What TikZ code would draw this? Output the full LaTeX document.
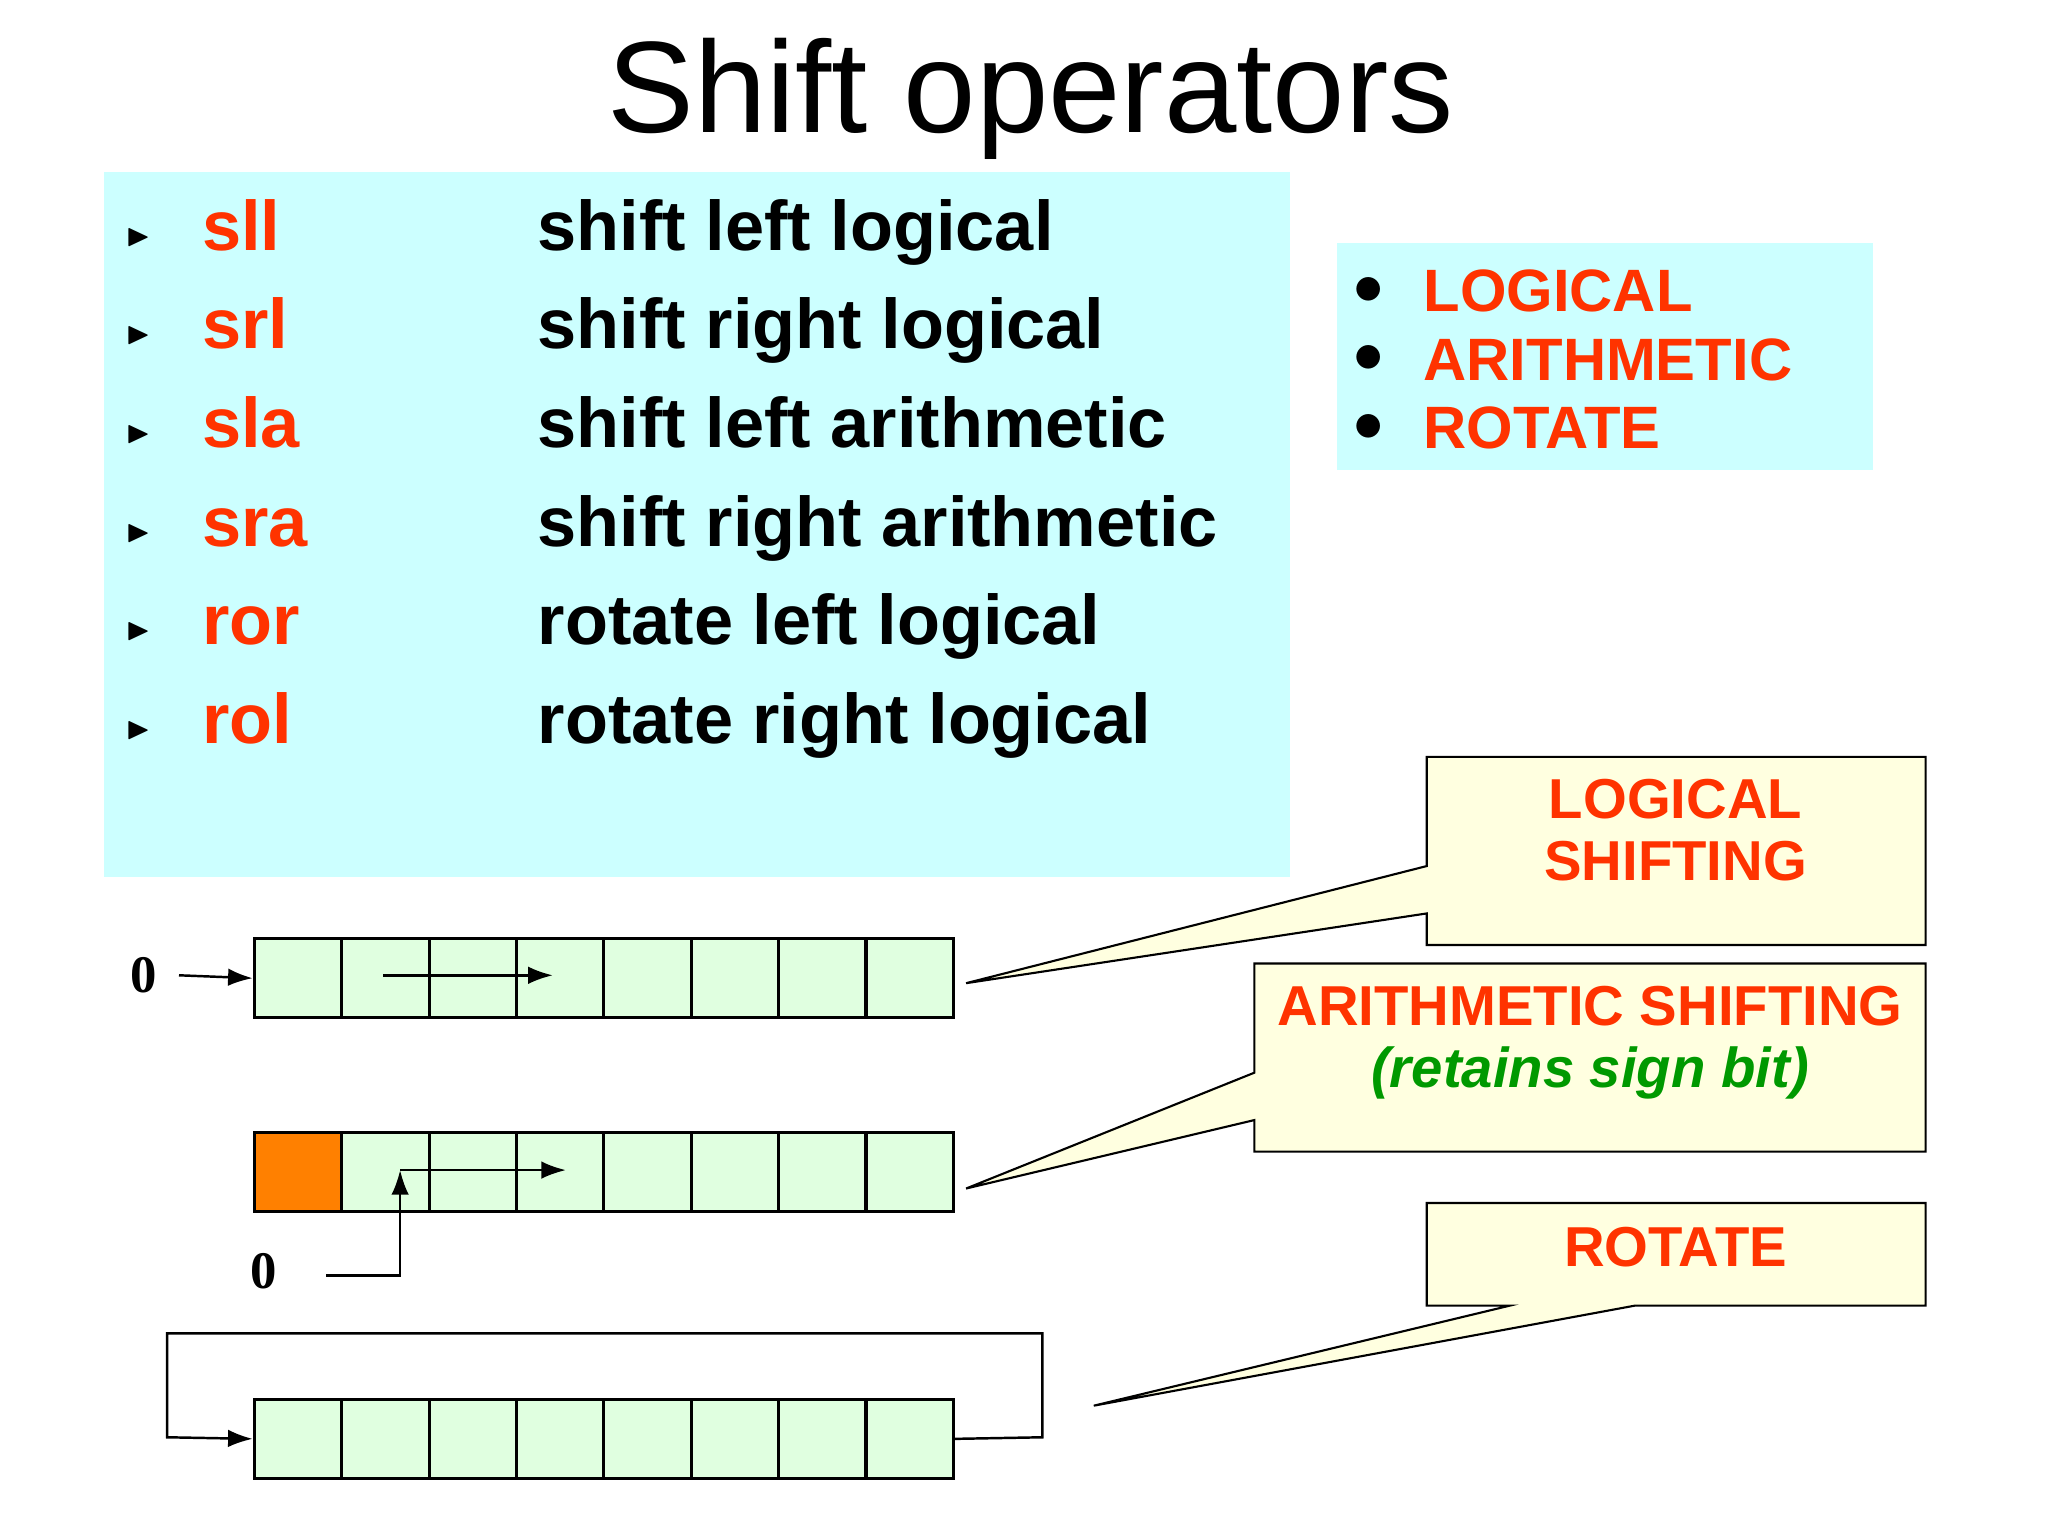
\documentclass[tikz,border=0pt]{standalone}
\usepackage{fontspec}
\setmainfont{Liberation Sans}
\newfontfamily\serifb{Liberation Serif}
\usepackage{amssymb}
\usetikzlibrary{arrows.meta}
\definecolor{cyanbg}{HTML}{CCFFFF}
\definecolor{redt}{HTML}{FF3300}
\definecolor{greent}{HTML}{009900}
\definecolor{cellg}{HTML}{E0FFE0}
\definecolor{callbg}{HTML}{FFFFE0}
\definecolor{orng}{HTML}{FF8000}
\begin{document}
\begin{tikzpicture}[x=0.01316cm,y=-0.01316cm,
  op/.style={anchor=base west,inner sep=0,font=\fontsize{20}{24}\selectfont\bfseries,text=redt},
  desc/.style={anchor=base west,inner sep=0,font=\fontsize{20}{24}\selectfont\bfseries},
  bul/.style={anchor=center,inner sep=0,font=\fontsize{9}{10}\selectfont},
  rb/.style={anchor=base west,inner sep=0,font=\fontsize{17}{20}\selectfont\bfseries,text=redt},
  ct/.style={anchor=base,inner sep=0,font=\fontsize{16}{19}\selectfont\bfseries,text=redt},
  cell/.style={draw,line width=0.9pt,fill=cellg,minimum width=66.4*0.01316cm,minimum height=60*0.01316cm,inner sep=0,anchor=north west},
  call/.style={draw,line width=0.6pt,fill=callbg},
  zero/.style={inner sep=0,font=\serifb\fontsize{15}{18}\selectfont\bfseries},
  arr/.style={-{Latex[length=7pt,width=5pt]},line width=0.7pt}]
\useasboundingbox (0,0) rectangle (1556,1167);
\fill[white] (0,0) rectangle (1556,1167);
\node[inner sep=0,font=\fontsize{37}{44}\selectfont] (title) at (783,75) {Shift operators};
% list box
\fill[cyanbg] (79,131) rectangle (980,666);
\foreach \o/\d/\y [count=\i] in {sll/shift left logical/190,srl/shift right logical/265,sla/shift left arithmetic/340,sra/shift right arithmetic/415,ror/rotate left logical/490,rol/rotate right logical/565}{
  \node[bul] (b\i) at (105,\y-10) {$\blacktriangleright$};
  \node[op] (o\i) at (153,\y) {\o};
  \node[desc] (d\i) at (408,\y) {\d};
}
% right box
\fill[cyanbg] (1016,185) rectangle (1423,357);
\foreach \t/\y [count=\i] in {LOGICAL/237,ARITHMETIC/289,ROTATE/341}{
  \node[inner sep=0,font=\fontsize{17}{20}\selectfont] (rbb\i) at (1040,\y-16) {$\bullet$};
  \node[rb] (r\i) at (1081,\y) {\t};
}
% callouts
\draw[call] (1084,575) -- (1463,575) -- (1463,718) -- (1084,718) -- (1084,694) -- (734,747) -- (1084,658) -- cycle;
\node[ct] (c1a) at (1273,622) {LOGICAL};
\node[ct] (c1b) at (1273,669) {SHIFTING};
\draw[call] (953,732) -- (1463,732) -- (1463,875) -- (953,875) -- (953,851) -- (734,903) -- (953,815) -- cycle;
\node[ct] (c2a) at (1208,779) {ARITHMETIC SHIFTING};
\node[ct,text=greent,font=\fontsize{16}{19}\selectfont\bfseries\itshape] (c2b) at (1208,826) {(retains sign bit)};
\draw[call] (1084,914) -- (1463,914) -- (1463,992) -- (1242,992) -- (831,1068) -- (1147,992) -- (1084,992) -- cycle;
\node[ct] (c3a) at (1273,962) {ROTATE};
% registers
\foreach \r/\y in {1/712,2/859,3/1062}{
  \foreach \k in {0,...,7}{
    \node[cell] (r\r c\k) at (192+\k*66.4,\y) {};
  }
}
\node[cell,fill=orng] at (192,859) {};
% row 1
\node[zero] (z1) at (109,741) {0};
\coordinate (z1e) at (136,741);
\draw[arr] (z1e) -- (r1c0.west);
\coordinate (a1s) at (291,741);
\coordinate (a1e) at (420,741);
\draw[arr] (a1s) -- (a1e);
% row 2
\node[zero] (z2) at (200,966) {0};
\coordinate (z2e) at (248,969);
\coordinate (a2c) at (304,969);
\coordinate (a2u) at (304,889);
\coordinate (a2e) at (430,889);
\draw[arr] (z2e) -- (a2c) -- (a2u);
\draw[arr] (a2u) -- (a2e);
% row 3 loop
\coordinate (l1) at (792,1092);
\coordinate (l2) at (792,1013);
\coordinate (l3) at (127,1013);
\coordinate (l4) at (127,1092);
\draw[arr] (r3c7.east) -- (l1) -- (l2) -- (l3) -- (l4) -- (r3c0.west);
\end{tikzpicture}
\end{document}
